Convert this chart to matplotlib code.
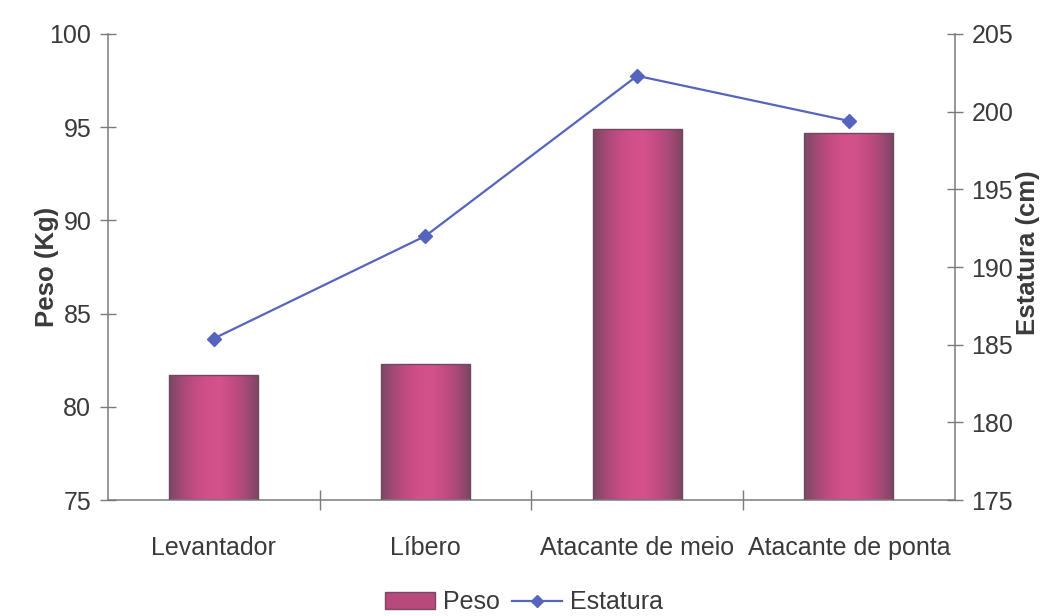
import numpy as np
import matplotlib
matplotlib.use("Agg")
import matplotlib.pyplot as plt
from matplotlib.colors import LinearSegmentedColormap
from matplotlib.lines import Line2D
from matplotlib.patches import Patch

# Data
posicoes = ["Levantador", "Líbero", "Atacante de meio", "Atacante de ponta"]
peso = [81.7, 82.3, 94.9, 94.7]          # kg
estatura = [185.4, 192.0, 202.3, 199.4]  # cm

peso_ticks = [75, 80, 85, 90, 95, 100]
estatura_ticks = [175, 180, 185, 190, 195, 200, 205]

plt.rcParams["font.family"] = ["Liberation Sans", "DejaVu Sans"]
text_color = "#3a3a3a"
axis_color = "#7a7a7a"
line_color = "#5565bd"
label_size = 18

fig = plt.figure(figsize=(10.48, 6.16), dpi=100)
ax = fig.add_axes([0.103, 0.188, 0.808, 0.757])

x = np.arange(len(posicoes))
bars = ax.bar(x, peso, width=0.42, color="none", edgecolor="#6e4a5c",
              linewidth=1.0, zorder=3)

# cylinder-like horizontal shading for each bar
cyl = LinearSegmentedColormap.from_list(
    "cyl", ["#7a4862", "#a44a76", "#c24c82", "#d2508a", "#d4528b", "#c44c83",
            "#a84a78", "#7e4663"])
grad = np.linspace(0, 1, 256).reshape(1, -1)
for b in bars:
    x0, w, h = b.get_x(), b.get_width(), b.get_height()
    im = ax.imshow(grad, cmap=cyl, aspect="auto", extent=[x0, x0 + w, 75, h],
                   zorder=2, interpolation="bicubic")
    im.set_clip_path(b)

ax.set_xlim(-0.5, len(posicoes) - 0.5)
ax.set_ylim(75, 100)
ax.set_yticks(peso_ticks)
ax.set_xticks(x)
ax.set_xticklabels(posicoes, fontsize=label_size, color=text_color)
ax.set_xticks(np.arange(0.5, len(posicoes) - 0.5, 1.0), minor=True)
ax.tick_params(axis="x", which="major", length=0, pad=26)
ax.tick_params(axis="x", which="minor", direction="inout", length=14, width=1, color=axis_color)
ax.tick_params(axis="y", direction="inout", length=12, width=1, color=axis_color,
               labelsize=label_size, labelcolor=text_color, pad=6)
ax.set_ylabel("Peso (Kg)", fontsize=18.5, fontweight="bold", color=text_color)
ax.yaxis.set_label_coords(-0.058, 0.5)

for s in ["top", "right"]:
    ax.spines[s].set_visible(False)
for s in ["left", "bottom"]:
    ax.spines[s].set_color(axis_color)
    ax.spines[s].set_linewidth(1.1)

ax2 = ax.twinx()
ax2.plot(x, estatura, color=line_color, lw=1.6, marker="D", markersize=7.5,
         markerfacecolor=line_color, markeredgecolor=line_color, zorder=3)
ax2.set_ylim(175, 205)
ax2.set_yticks(estatura_ticks)
ax2.tick_params(axis="y", direction="inout", length=12, width=1, color=axis_color,
                labelsize=label_size, labelcolor=text_color, pad=6)
ax2.set_ylabel("Estatura (cm)", fontsize=18.5, fontweight="bold", color=text_color)
ax2.yaxis.set_label_coords(1.072, 0.53)
for s in ["top", "left", "bottom"]:
    ax2.spines[s].set_visible(False)
ax2.spines["right"].set_color(axis_color)
ax2.spines["right"].set_linewidth(1.1)

handles = [Patch(facecolor="#b8497b", edgecolor="#7a4862"),
           Line2D([0], [0], color=line_color, lw=1.6, marker="D", markersize=6)]
fig.legend(handles, ["Peso", "Estatura"], loc="center", bbox_to_anchor=(0.5, 0.022),
           ncol=2, frameon=False, fontsize=label_size, handlelength=2.0, handletextpad=0.3,
           columnspacing=0.5, labelcolor=text_color)

fig.savefig("out.png", dpi=100, facecolor="white")
